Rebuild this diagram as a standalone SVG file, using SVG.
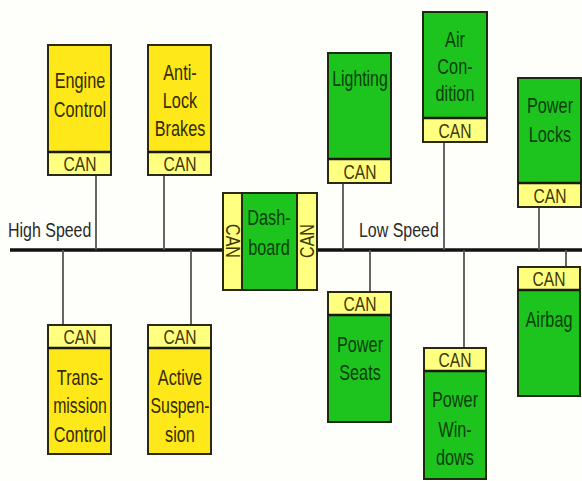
<svg xmlns="http://www.w3.org/2000/svg" width="582" height="481" viewBox="0 0 582 481">
<style>
.y{fill:#ffe81a;stroke:#2a2a10;stroke-width:2}
.g{fill:#1ec41e;stroke:#1e2a10;stroke-width:2}
.c{fill:#ffff80;stroke:#2a2a10;stroke-width:2}
.d{stroke:#1a1a0a;stroke-width:2.5}
text{font-family:"Liberation Sans",Arial,sans-serif;text-anchor:middle}
.ty{font-size:22px;fill:#332c00}
.tg{font-size:22px;fill:#0a3f0a}
.tc{font-size:20px;fill:#403800}
.tb{font-size:21px;fill:#2a2a2a;text-anchor:start}
.bus{stroke:#111;stroke-width:3.5}
.wire{stroke:#555;stroke-width:1.8;fill:none}
</style>
<rect width="582" height="481" fill="#fefefb"/>
<g id="connectors">
<line class="bus" x1="10" y1="250" x2="582" y2="250"/>
<line class="wire" x1="96" y1="175" x2="96" y2="250"/>
<line class="wire" x1="164" y1="175" x2="164" y2="250"/>
<line class="wire" x1="63" y1="250" x2="63" y2="325"/>
<line class="wire" x1="191" y1="250" x2="191" y2="325"/>
<line class="wire" x1="343" y1="183" x2="343" y2="250"/>
<line class="wire" x1="444" y1="142" x2="444" y2="250"/>
<line class="wire" x1="539" y1="207" x2="539" y2="250"/>
<line class="wire" x1="370" y1="250" x2="370" y2="292"/>
<line class="wire" x1="464" y1="250" x2="464" y2="348"/>
<line class="wire" x1="566" y1="250" x2="566" y2="267"/>
</g>
<g id="labels">
<text class="tb" transform="translate(8,237) scale(0.76,1)">High Speed</text>
<text class="tb" transform="translate(359,237) scale(0.76,1)">Low Speed</text>
</g>
<g id="engine-control">
<rect class="y" x="48" y="45" width="63" height="107"/>
<rect class="c" x="48" y="152" width="63" height="23"/>
<line class="d" x1="48" y1="152" x2="111" y2="152"/>
<text class="ty" transform="translate(80,88) scale(0.74,1)">Engine</text>
<text class="ty" transform="translate(80,117) scale(0.74,1)">Control</text>
<text class="tc" transform="translate(80,171) scale(0.78,1)">CAN</text>
</g>
<g id="anti-lock-brakes">
<rect class="y" x="148" y="45" width="63" height="107"/>
<rect class="c" x="148" y="152" width="63" height="23"/>
<line class="d" x1="148" y1="152" x2="211" y2="152"/>
<text class="ty" transform="translate(180,80) scale(0.74,1)">Anti-</text>
<text class="ty" transform="translate(180,108) scale(0.74,1)">Lock</text>
<text class="ty" transform="translate(180,136) scale(0.74,1)">Brakes</text>
<text class="tc" transform="translate(180,171) scale(0.78,1)">CAN</text>
</g>
<g id="transmission-control">
<rect class="c" x="48" y="325" width="63" height="23"/>
<rect class="y" x="48" y="348" width="63" height="106"/>
<line class="d" x1="48" y1="348" x2="111" y2="348"/>
<text class="tc" transform="translate(80,344) scale(0.78,1)">CAN</text>
<text class="ty" transform="translate(80,385) scale(0.74,1)">Trans-</text>
<text class="ty" transform="translate(80,413) scale(0.72,1)">mission</text>
<text class="ty" transform="translate(80,442) scale(0.74,1)">Control</text>
</g>
<g id="active-suspension">
<rect class="c" x="148" y="325" width="63" height="23"/>
<rect class="y" x="148" y="348" width="63" height="106"/>
<line class="d" x1="148" y1="348" x2="211" y2="348"/>
<text class="tc" transform="translate(180,344) scale(0.78,1)">CAN</text>
<text class="ty" transform="translate(180,385) scale(0.74,1)">Active</text>
<text class="ty" transform="translate(180,413) scale(0.72,1)">Suspen-</text>
<text class="ty" transform="translate(180,442) scale(0.74,1)">sion</text>
</g>
<g id="dashboard">
<rect class="c" x="223" y="193" width="94" height="97"/>
<rect class="g" x="242" y="193" width="55" height="97"/>
<text class="tc" transform="translate(226,241) rotate(90) scale(0.8,1)">CAN</text>
<text class="tc" transform="translate(314,241) rotate(-90) scale(0.8,1)">CAN</text>
<text class="tg" transform="translate(269,225) scale(0.74,1)">Dash-</text>
<text class="tg" transform="translate(269,255) scale(0.74,1)">board</text>
</g>
<g id="lighting">
<rect class="g" x="328" y="53" width="63" height="106"/>
<rect class="c" x="328" y="159" width="63" height="24"/>
<line class="d" x1="328" y1="159" x2="391" y2="159"/>
<text class="tg" transform="translate(360,86) scale(0.72,1)">Lighting</text>
<text class="tc" transform="translate(360,179) scale(0.78,1)">CAN</text>
</g>
<g id="air-condition">
<rect class="g" x="423" y="12" width="64" height="106"/>
<rect class="c" x="423" y="118" width="64" height="24"/>
<line class="d" x1="423" y1="118" x2="487" y2="118"/>
<text class="tg" transform="translate(455,47) scale(0.74,1)">Air</text>
<text class="tg" transform="translate(455,74) scale(0.74,1)">Con-</text>
<text class="tg" transform="translate(455,101) scale(0.74,1)">dition</text>
<text class="tc" transform="translate(455,138) scale(0.78,1)">CAN</text>
</g>
<g id="power-locks">
<rect class="g" x="518" y="78" width="63" height="105"/>
<rect class="c" x="518" y="183" width="63" height="24"/>
<line class="d" x1="518" y1="183" x2="581" y2="183"/>
<text class="tg" transform="translate(550,113) scale(0.74,1)">Power</text>
<text class="tg" transform="translate(550,142) scale(0.74,1)">Locks</text>
<text class="tc" transform="translate(550,203) scale(0.78,1)">CAN</text>
</g>
<g id="power-seats">
<rect class="c" x="328" y="292" width="63" height="23"/>
<rect class="g" x="328" y="315" width="63" height="107"/>
<line class="d" x1="328" y1="315" x2="391" y2="315"/>
<text class="tc" transform="translate(360,311) scale(0.78,1)">CAN</text>
<text class="tg" transform="translate(360,352) scale(0.74,1)">Power</text>
<text class="tg" transform="translate(360,380) scale(0.74,1)">Seats</text>
</g>
<g id="power-windows">
<rect class="c" x="424" y="348" width="62" height="23"/>
<rect class="g" x="424" y="371" width="62" height="108"/>
<line class="d" x1="424" y1="371" x2="486" y2="371"/>
<text class="tc" transform="translate(455,367) scale(0.78,1)">CAN</text>
<text class="tg" transform="translate(455,407) scale(0.74,1)">Power</text>
<text class="tg" transform="translate(455,437) scale(0.74,1)">Win-</text>
<text class="tg" transform="translate(455,465) scale(0.74,1)">dows</text>
</g>
<g id="airbag">
<rect class="c" x="518" y="267" width="62" height="23"/>
<rect class="g" x="518" y="290" width="62" height="106"/>
<line class="d" x1="518" y1="290" x2="580" y2="290"/>
<text class="tc" transform="translate(549,286) scale(0.78,1)">CAN</text>
<text class="tg" transform="translate(549,327) scale(0.74,1)">Airbag</text>
</g>
</svg>
